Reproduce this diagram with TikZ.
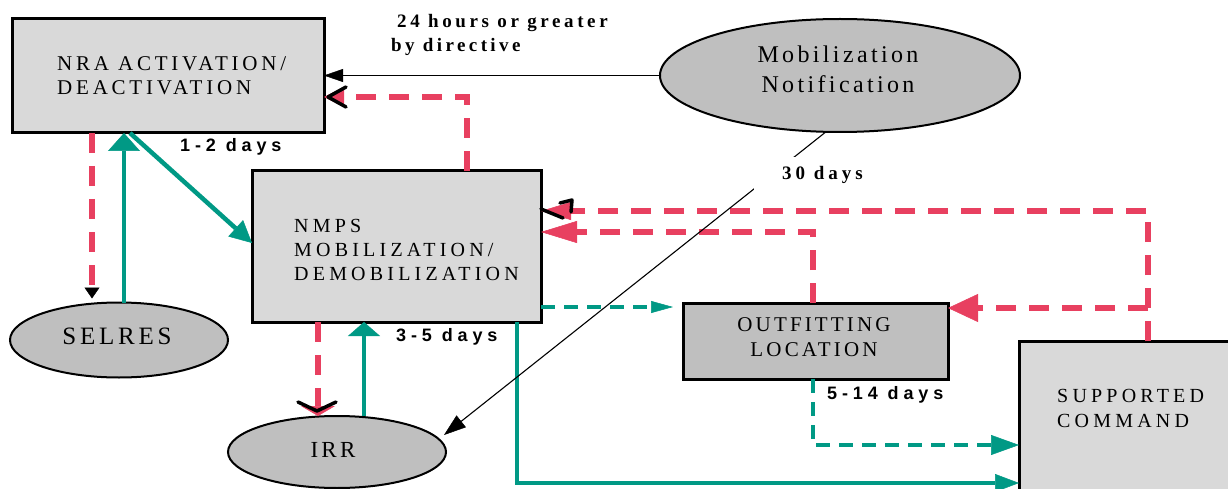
\documentclass[tikz,border=0pt]{standalone}
\usepackage{fontspec}
\setmainfont{Liberation Serif}
\newfontfamily\serifsp{Liberation Serif}
\newfontfamily\sanssp{Liberation Sans}
\usetikzlibrary{arrows.meta,shapes.geometric}
\definecolor{cred}{RGB}{232,64,96}
\definecolor{cgreen}{RGB}{0,153,133}
\definecolor{boxlight}{RGB}{217,217,217}
\definecolor{boxdark}{RGB}{191,191,191}
\newcommand\boxfnt[2]{\serifsp\fontsize{#1}{#1}\selectfont\addfontfeatures{LetterSpace=#2}}
\newcommand\lblfnt[2]{\serifsp\bfseries\fontsize{#1}{#1}\selectfont\addfontfeatures{LetterSpace=#2}}
\newcommand\daysfnt[2]{\sanssp\bfseries\fontsize{#1}{#1}\selectfont\addfontfeatures{LetterSpace=#2}}
\begin{document}
\begin{tikzpicture}[x=1pt,y=-1pt,
  lightbox/.style={draw=black, line width=3pt, fill=boxlight, inner sep=0pt, outer sep=0pt},
  darkbox/.style={lightbox, fill=boxdark},
  oval/.style={ellipse, draw=black, line width=2pt, fill=boxdark, inner sep=0pt, outer sep=0pt},
  rdash/.style={draw=cred, line width=5.5pt, dash pattern=on 20pt off 13pt},
  gsolid/.style={draw=cgreen, line width=4.5pt},
  gdash/.style={draw=cgreen, line width=3.5pt, dash pattern=on 14pt off 9pt},
  bline/.style={draw=black, line width=1.1pt},
  barb/.style={draw=black, line width=3.5pt, line cap=round, line join=round},
  tx/.style={anchor=base west, inner sep=0pt},
  txc/.style={anchor=base, inner sep=0pt},
]
\useasboundingbox (0,0) rectangle (1228,489);
\clip (0,0) rectangle (1228,489);
\fill[white] (0,0) rectangle (1228,489);

% boxes and ovals
\node[lightbox, minimum width=312pt, minimum height=114pt] (nra) at (168,76) {};
\node[lightbox, minimum width=289pt, minimum height=151pt] (nmps) at (396.5,246.5) {};
\node[darkbox, minimum width=265pt, minimum height=76pt] (outfit) at (815.5,341) {};
\node[lightbox, minimum width=221pt, minimum height=159pt] (sc) at (1129.5,420.5) {};
\node[oval, minimum width=360pt, minimum height=113pt] (mob) at (840,75.5) {};
\node[oval, minimum width=218pt, minimum height=75pt] (selres) at (119,340) {};
\node[oval, minimum width=218pt, minimum height=72pt] (irr) at (337,452) {};

% texts in shapes
\node[tx, font=\boxfnt{21}{18}] (nra1) at (57,71) {NRA ACTIVATION/};
\node[tx, font=\boxfnt{21}{18}] (nra2) at (57,95) {DEACTIVATION};
\node[tx, font=\boxfnt{20}{21}] (nm1) at (294,232) {NMPS};
\node[tx, font=\boxfnt{20}{21}] (nm2) at (294,256) {MOBILIZATION/};
\node[tx, font=\boxfnt{20}{21}] (nm3) at (294,280) {DEMOBILIZATION};
\node[txc, font=\boxfnt{21}{15}] (of1) at (814,331) {OUTFITTING};
\node[txc, font=\boxfnt{21}{15}] (of2) at (814,356) {LOCATION};
\node[tx, font=\boxfnt{20}{21}] (sc1) at (1057,402) {SUPPORTED};
\node[tx, font=\boxfnt{20}{21}] (sc2) at (1057,427) {COMMAND};
\node[txc, font=\boxfnt{24}{14}] (mb1) at (838,63) {Mobilization};
\node[txc, font=\boxfnt{24}{14}] (mb2) at (838,93) {Notification};
\node[txc, font=\boxfnt{25}{15}] (se) at (117,344) {SELRES};
\node[txc, font=\boxfnt{23}{14}] (ir) at (333,457) {IRR};

% red dashed connectors
\draw[rdash, -{Triangle[length=20pt,width=20pt,line width=0.5pt]}] (nmps.north -| 467,0) |- (nra.east |- 0,97);
\draw[barb] (346,87) -- (328,97) -- (346,107);
\draw[rdash, shorten >=4pt, -{Triangle[length=11pt,width=15pt,line width=0.5pt,color=black]}] (nra.south -| 92,0) -- (selres.north -| 92,0);
\draw[rdash, -{Triangle[length=10pt,width=34pt,line width=0.5pt]}] (nmps.south -| 318,0) -- (irr.north -| 318,0);
\draw[barb] (298,402) -- (317,411) -- (336,402);
\draw[rdash, -{Triangle[length=30pt,width=18pt,line width=0.5pt]}] (sc.north -| 1148,0) |- (nmps.east |- 0,211);
\draw[barb] (541,209) -- (563,218);
\draw[barb] (560,203) -- (572,200) -- (571,212);
\draw[rdash, -{Triangle[length=36pt,width=22pt,line width=0.5pt]}] (outfit.north -| 813,0) |- (nmps.east |- 0,232);
\draw[rdash, -{Triangle[length=30pt,width=28pt,line width=0.5pt]}] (sc.north -| 1148,0) |- (outfit.east |- 0,308);

% green connectors
\draw[gsolid, -{Triangle[length=18pt,width=32pt,line width=0.5pt]}] (selres.north -| 124,0) -- (nra.south -| 124,0);
\draw[gsolid, -{Triangle[length=22pt,width=22pt,line width=0.5pt]}] (nra.south -| 130,0) -- (nmps.west |- 0,243);
\draw[gsolid, -{Triangle[length=14pt,width=32pt,line width=0.5pt]}] (irr.north -| 364,0) -- (nmps.south -| 364,0);
\draw[gsolid, -{Triangle[length=24pt,width=18pt,line width=0.5pt]}] (nmps.south -| 517,0) |- (sc.west |- 0,483);
\draw[gdash, shorten >=10pt, -{Triangle[length=22pt,width=12pt,line width=0.5pt]}] (nmps.east |- 0,307) -- (outfit.west |- 0,307);
\draw[gdash, -{Triangle[length=28pt,width=20pt,line width=0.5pt]}] (outfit.south -| 813,0) |- (sc.west |- 0,445);

% black connectors
\draw[bline, -{Triangle[length=19pt,width=13pt,line width=0.5pt]}] (mob.west) -- (nra.east |- mob.west);
\draw[bline, -{Triangle[length=22pt,width=15pt,line width=0.5pt]}] (mob.256) -- ([shift={(-2,-17)}]irr.east);

% labels
\node[tx, font=\lblfnt{19}{19}] (l24) at (397,28) {24 hours or greater};
\node[tx, font=\lblfnt{19}{18}] (ldir) at (391,52) {by directive};
\node[tx, font=\lblfnt{19}{21}, fill=white, inner xsep=28pt, inner ysep=9pt] (l30) at (754,179) {30 days};
\node[tx, font=\daysfnt{18}{27}] (l12) at (180,152) {1-2 days};
\node[tx, font=\daysfnt{18}{27}] (l35) at (396,341) {3-5 days};
\node[tx, font=\daysfnt{18}{27}] (l514) at (827,399) {5-14 days};
\end{tikzpicture}
\end{document}
